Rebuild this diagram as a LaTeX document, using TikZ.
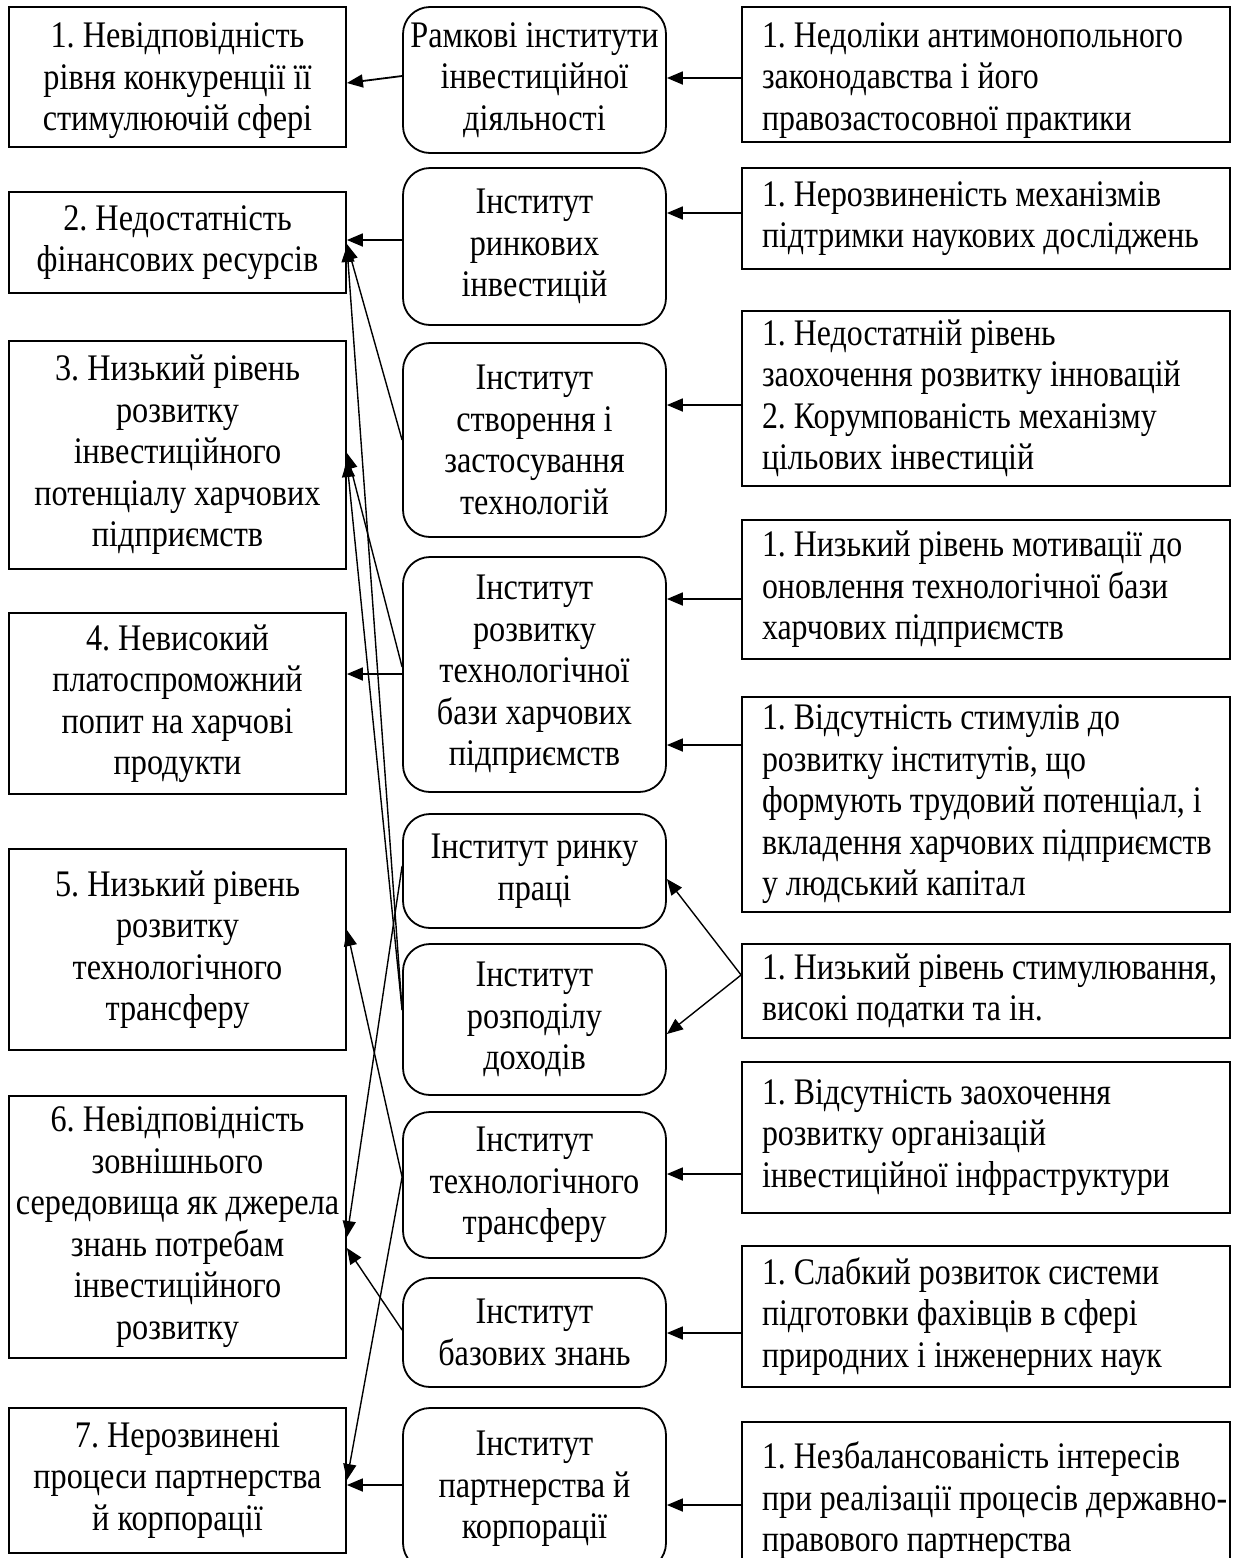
\documentclass[tikz,border=0pt]{standalone}
\usepackage{fontspec}
\setmainfont{Liberation Serif}[FakeStretch=0.86]
\newfontfamily\rfont{Liberation Serif}[FakeStretch=0.85]
\usetikzlibrary{arrows.meta}
\newcommand\rl[1]{\mbox{\frenchspacing\spaceskip=0pt\xspaceskip=0pt #1}}
\tikzset{
 base/.style={draw, line width=1.8pt, inner sep=0pt, font=\fontsize{37.5pt}{41.5pt}\selectfont\frenchspacing},
 lbox/.style={base, rectangle, minimum width=337pt, align=center},
 mbox/.style={base, rectangle, rounded corners=27pt, minimum width=263pt, align=center},
 rbox/.style={base, rectangle, inner xsep=20pt, text width=448pt, align=left,
   font=\rfont\fontsize{37.5pt}{41.5pt}\selectfont\frenchspacing},
 arr/.style={line width=1.8pt, -{Triangle[length=16pt,width=13pt]}},
 arrs/.style={line width=1.4pt, -{Triangle[length=16pt,width=13pt]}},
}
\begin{document}
\begin{tikzpicture}[x=1pt,y=-1pt]
\useasboundingbox (0,0) rectangle (1239,1558);
% left column
\node[lbox, minimum height=140pt] (L1) at (177.5,77) {\rule{0pt}{33pt}1. Невідповідність\\рівня конкуренції її\\стимулюючій сфері};
\node[lbox, minimum height=101pt] (L2) at (177.5,242.5) {2. Недостатність\\фінансових ресурсів};
\node[lbox, minimum height=228pt] (L3) at (177.5,455) {3. Низький рівень\\розвитку\\інвестиційного\\потенціалу харчових\\підприємств};
\node[lbox, minimum height=181pt] (L4) at (177.5,703.5) {4. Невисокий\\платоспроможний\\попит на харчові\\продукти};
\node[lbox, minimum height=201pt] (L5) at (177.5,949.5) {5. Низький рівень\\розвитку\\технологічного\\трансферу};
\node[lbox, minimum height=262pt] (L6) at (177.5,1227) {6. Невідповідність\\зовнішнього\\середовища як джерела\\знань потребам\\інвестиційного\\розвитку};
\node[lbox, minimum height=145pt] (L7) at (177.5,1480.5) {7. Нерозвинені\\процеси партнерства\\й корпорації};
% middle column
\node[mbox, minimum height=146pt] (A) at (534.5,80) {Рамкові інститути\\інвестиційної\\діяльності};
\node[mbox, minimum height=157pt] (B) at (534.5,246.5) {Інститут\\ринкових\\інвестицій};
\node[mbox, minimum height=194pt] (C) at (534.5,440) {Інститут\\створення і\\застосування\\технологій};
\node[mbox, minimum height=235pt] (D) at (534.5,674.5) {Інститут\\розвитку\\технологічної\\бази харчових\\підприємств};
\node[mbox, minimum height=114pt] (E) at (534.5,871) {Інститут ринку\\праці};
\node[mbox, minimum height=151pt] (F) at (534.5,1019.5) {Інститут\\розподілу\\доходів};
\node[mbox, minimum height=146pt] (G) at (534.5,1185) {Інститут\\технологічного\\трансферу};
\node[mbox, minimum height=109pt] (H) at (534.5,1332.5) {Інститут\\базових знань};
\node[mbox, minimum height=162pt] (I) at (534.5,1489) {Інститут\\партнерства й\\корпорації};
% right column
\node[rbox, minimum height=135pt] (R1) at (986,74.5) {\rule{0pt}{36pt}\rl{1. Недоліки антимонопольного}\\\rl{законодавства і його}\\\rl{правозастосовної практики}};
\node[rbox, minimum height=101pt] (R2) at (986,218.5) {\rl{1. Нерозвиненість механізмів}\\\rl{підтримки наукових досліджень}};
\node[rbox, minimum height=175pt] (R3) at (986,398.5) {\rl{1. Недостатній рівень}\\\rl{заохочення розвитку інновацій}\\\rl{2. Корумпованість механізму}\\\rl{цільових інвестицій}};
\node[rbox, minimum height=139pt] (R4) at (986,589.5) {\rl{1. Низький рівень мотивації до}\\\rl{оновлення технологічної бази}\\\rl{харчових підприємств}};
\node[rbox, minimum height=215pt] (R5) at (986,804.5) {\rl{1. Відсутність стимулів до}\\\rl{розвитку інститутів, що}\\\rl{формують трудовий потенціал, і}\\\rl{вкладення харчових підприємств}\\\rl{у людський капітал}};
\node[rbox, minimum height=94pt] (R6) at (986,991) {\rl{1. Низький рівень стимулювання,}\\\rl{високі податки та ін.}};
\node[rbox, minimum height=151pt] (R7) at (986,1137.5) {\rl{1. Відсутність заохочення}\\\rl{розвитку організацій}\\\rl{інвестиційної інфраструктури}};
\node[rbox, minimum height=141pt] (R8) at (986,1316.5) {\rl{1. Слабкий розвиток системи}\\\rl{підготовки фахівців в сфері}\\\rl{природних і інженерних наук}};
\node[rbox, minimum height=158pt] (R9) at (986,1501) {\rl{1. Незбалансованість інтересів}\\\rl{при реалізації процесів державно-}\\\rl{правового партнерства}};
% horizontal connectors
\draw[arr] ([yshift=4pt]A.west) -- ([yshift=-6pt]L1.east);
\draw[arr] ([yshift=-3.5pt]R1.west) -- ([yshift=2pt]A.east);
\draw[arr] ([yshift=6.5pt]B.west) -- ([yshift=2.5pt]L2.east);
\draw[arr] ([yshift=5.5pt]R2.west) -- ([yshift=33.5pt]B.east);
\draw[arr] ([yshift=-6.5pt]R3.west) -- ([yshift=35pt]C.east);
\draw[arr] ([yshift=0.5pt]D.west) -- ([yshift=29.5pt]L4.east);
\draw[arr] ([yshift=-9.5pt]R4.west) -- ([yshift=75.5pt]D.east);
\draw[arr] ([yshift=59.5pt]R5.west) -- ([yshift=-70.5pt]D.east);
\draw[arr] ([yshift=-36.5pt]R7.west) -- ([yshift=11pt]G.east);
\draw[arr] ([yshift=-16.5pt]R8.west) -- ([yshift=-0.5pt]H.east);
\draw[arr] ([yshift=4pt]I.west) -- ([yshift=-4.5pt]L7.east);
\draw[arr] ([yshift=-4pt]R9.west) -- ([yshift=-16pt]I.east);
% sloped connectors
\draw[arrs] (C.west) -- ([yshift=-1.5pt]L2.east);
\draw[arrs] ([yshift=9.5pt]F.west) -- ([yshift=-3.5pt]L2.east);
\draw[arrs] ([yshift=7.5pt]D.west) -- ([yshift=2pt]L3.east);
\draw[arrs] ([yshift=9.5pt]F.west) -- ([yshift=-6pt]L3.east);
\draw[arrs] ([yshift=5pt]E.west) -- ([yshift=-10pt]L6.east);
\draw[arrs] ([yshift=16pt]R6.west) -- ([yshift=-8pt]E.east);
\draw[arrs] ([yshift=16pt]R6.west) -- ([yshift=-14.5pt]F.east);
\draw[arrs] ([yshift=8pt]G.west) -- ([yshift=19.5pt]L5.east);
\draw[arrs] ([yshift=8pt]G.west) -- ([yshift=0.5pt]L7.east);
\draw[arrs] ([yshift=2.5pt]H.west) -- ([yshift=-21pt]L6.east);
\end{tikzpicture}
\end{document}
